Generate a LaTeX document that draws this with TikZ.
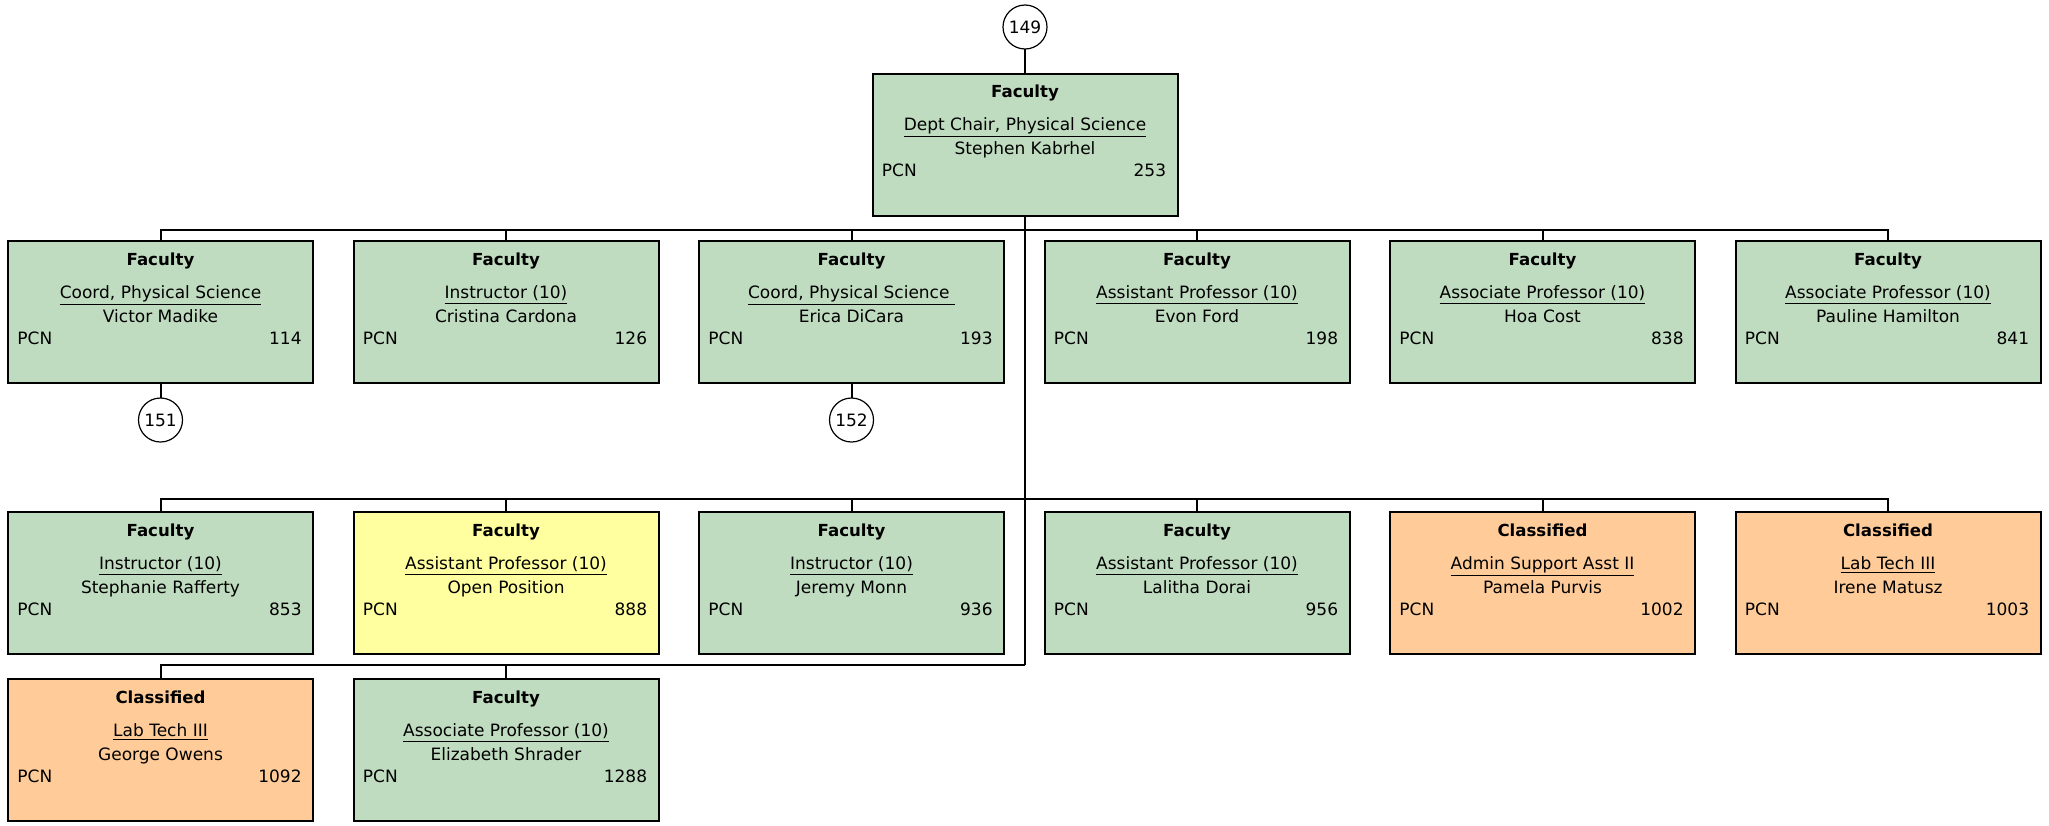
\documentclass[tikz,border=0pt]{standalone}
\usepackage{fontspec}
\setmainfont{DejaVu Sans}
\definecolor{fgreen}{RGB}{192,220,192}
\definecolor{fyellow}{RGB}{255,255,160}
\definecolor{forange}{RGB}{255,204,153}
\tikzset{
  orgbox/.style={draw, line width=1pt, minimum width=152.5pt, minimum height=71pt, inner sep=0pt, outer sep=0pt, anchor=north west},
  conn/.style={line width=1pt},
  tag/.style={draw, circle, line width=0.6pt, minimum size=22pt, inner sep=0pt, outer sep=0pt, fill=white, font=\fontsize{8.5}{10}\selectfont},
  cattxt/.style={inner sep=0pt, anchor=base, font=\bfseries\fontsize{8.3}{10}\selectfont},
  txt/.style={inner sep=0pt, font=\fontsize{8.5}{10}\selectfont},
}
\newcommand\orgunit[8]{%
  \node[orgbox, fill=#4] (#1) at (#2,#3) {};
  \node[cattxt] (#1c) at ([yshift=-12pt]#1.north) {#5};
  \node[txt, anchor=base] (#1t) at ([yshift=-28.5pt]#1.north) {\underline{#6}};
  \node[txt, anchor=base] (#1n) at ([yshift=-40.5pt]#1.north) {#7};
  \node[txt, anchor=base west] (#1p) at ([xshift=4.5pt,yshift=-51.5pt]#1.north west) {PCN};
  \node[txt, anchor=base east] (#1v) at ([xshift=-5.5pt,yshift=-51.5pt]#1.north east) {#8};
}
\begin{document}
\begin{tikzpicture}[x=0.5pt,y=-0.5pt]
\useasboundingbox (0,0) rectangle (2049,825);
% top
\orgunit{top}{872.5}{73.5}{fgreen}{Faculty}{Dept Chair, Physical Science}{Stephen Kabrhel}{253}
% row 1
\orgunit{b1}{8}{241}{fgreen}{Faculty}{Coord, Physical Science}{Victor Madike}{114}
\orgunit{b2}{353.5}{241}{fgreen}{Faculty}{Instructor (10)}{Cristina Cardona}{126}
\orgunit{b3}{699}{241}{fgreen}{Faculty}{Coord, Physical Science\ }{Erica DiCara}{193}
\orgunit{b4}{1044.5}{241}{fgreen}{Faculty}{Assistant Professor (10)}{Evon Ford}{198}
\orgunit{b5}{1390}{241}{fgreen}{Faculty}{Associate Professor (10)}{Hoa Cost}{838}
\orgunit{b6}{1735.5}{241}{fgreen}{Faculty}{Associate Professor (10)}{Pauline Hamilton}{841}
% row 2
\orgunit{c1}{8}{512}{fgreen}{Faculty}{Instructor (10)}{Stephanie Rafferty}{853}
\orgunit{c2}{353.5}{512}{fyellow}{Faculty}{Assistant Professor (10)}{Open Position}{888}
\orgunit{c3}{699}{512}{fgreen}{Faculty}{Instructor (10)}{Jeremy Monn}{936}
\orgunit{c4}{1044.5}{512}{fgreen}{Faculty}{Assistant Professor (10)}{Lalitha Dorai}{956}
\orgunit{c5}{1390}{512}{forange}{Classified}{Admin Support Asst II}{Pamela Purvis}{1002}
\orgunit{c6}{1735.5}{512}{forange}{Classified}{Lab Tech III}{Irene Matusz}{1003}
% row 3
\orgunit{d1}{8}{679}{forange}{Classified}{Lab Tech III}{George Owens}{1092}
\orgunit{d2}{353.5}{679}{fgreen}{Faculty}{Associate Professor (10)}{Elizabeth Shrader}{1288}
% circles
\node[tag] (k149) at (1025,27) {149};
\node[tag] (k151) at (160.5,420) {151};
\node[tag] (k152) at (851.5,420) {152};
% connectors
\coordinate (bus1) at (top.south |- 0,230);
\coordinate (bus2) at (top.south |- 0,499);
\coordinate (bus3) at (top.south |- 0,665);
\draw[conn] (k149) -- (top.north);
\draw[conn] (top.south) -- (bus3);
\foreach \n in {b1,b2,b3,b4,b5,b6} {\draw[conn] (bus1) -| (\n.north);}
\foreach \n in {c1,c2,c3,c4,c5,c6} {\draw[conn] (bus2) -| (\n.north);}
\foreach \n in {d1,d2} {\draw[conn] (bus3) -| (\n.north);}
\draw[conn] (b1.south) -- (k151);
\draw[conn] (b3.south) -- (k152);
\end{tikzpicture}
\end{document}
